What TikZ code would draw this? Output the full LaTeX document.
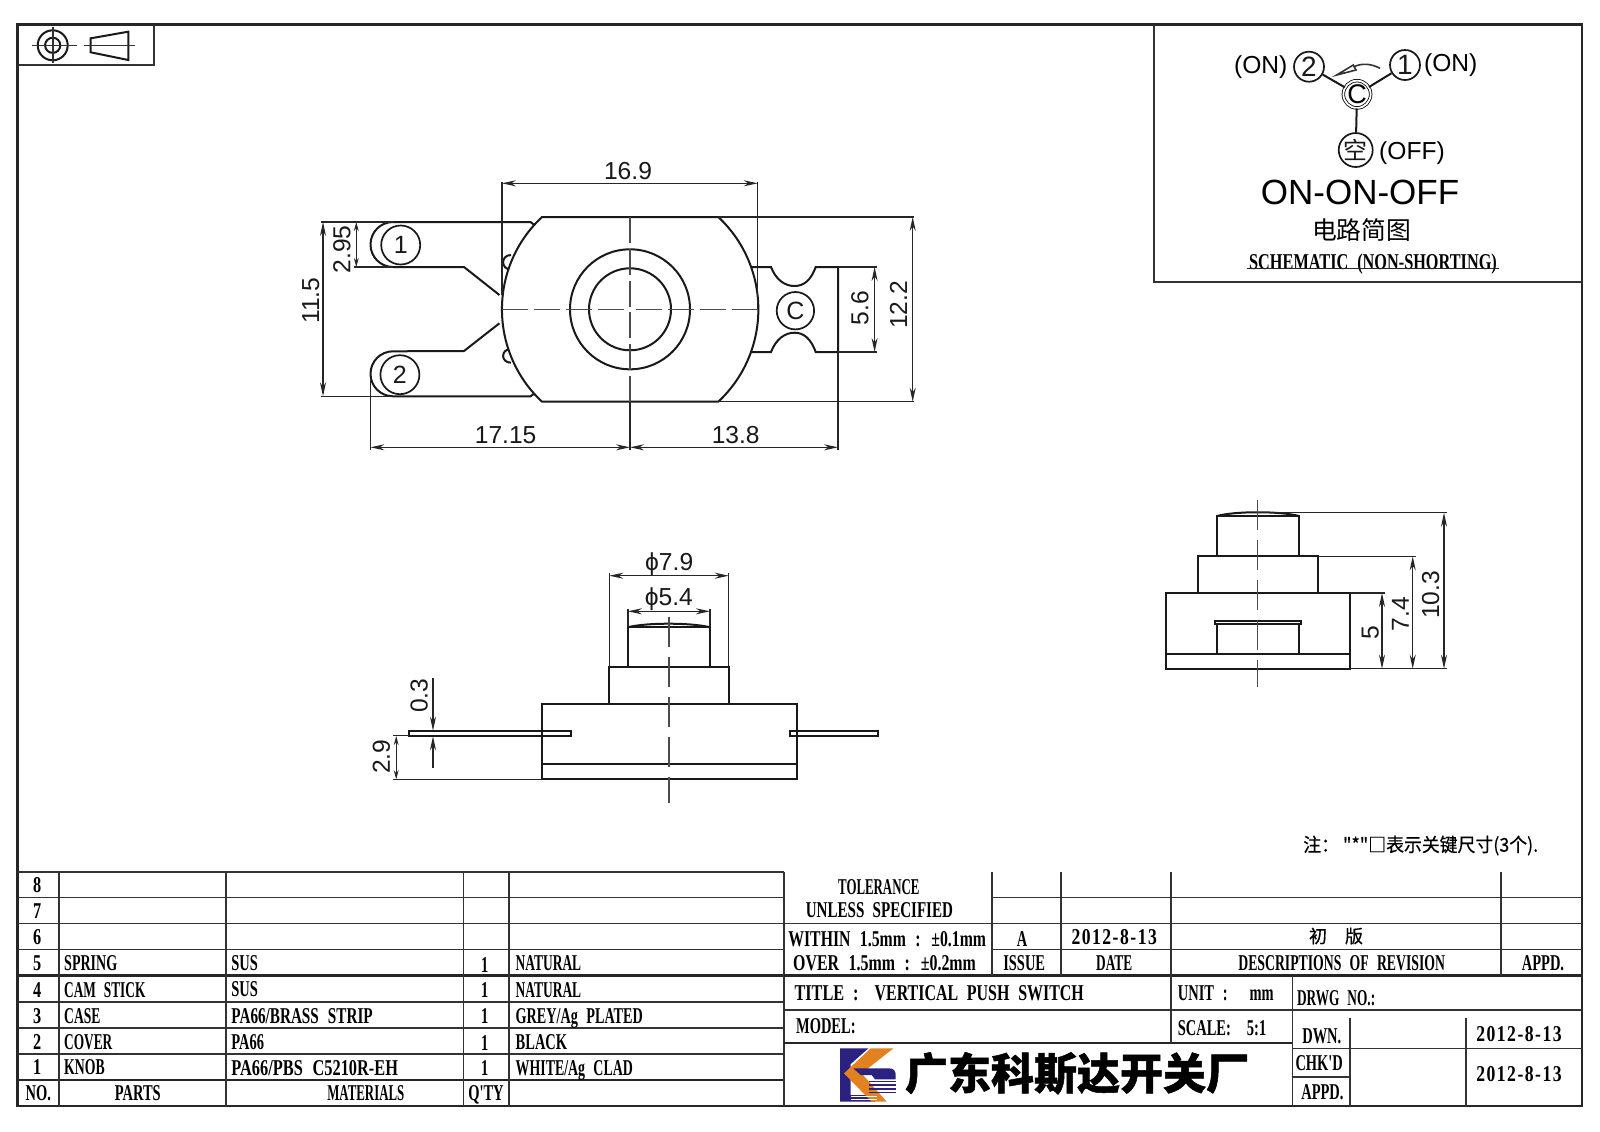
\documentclass[tikz,border=0pt]{standalone}
\usepackage{fontspec}
\usepackage{graphicx}
\setmainfont{Liberation Sans}
\newfontfamily\cjk[BoldFeatures={FakeBold=1.2}]{Noto Sans CJK SC}
\newfontfamily\cjkm[FakeBold=0.5]{Noto Sans CJK SC}
\newfontfamily\cadf[FakeStretch=0.64,WordSpace=2.4]{Liberation Serif}
\newfontfamily\cadg[FakeStretch=0.72,WordSpace=2.2]{Liberation Serif}
\newfontfamily\cadh[FakeStretch=0.78,LetterSpace=6.6]{Liberation Serif}
\newcommand{\cad}{\cadf\bfseries\fontsize{11.3}{12}\selectfont}
\newcommand{\cadw}{\cadg\bfseries\fontsize{11.3}{12}\selectfont}
\newcommand{\cadd}{\cadh\bfseries\fontsize{11.3}{12}\selectfont}
\newcommand{\dimf}{\fontsize{12.3}{13}\selectfont}
\newcommand{\hs}[2]{\scalebox{#1}[1]{#2}}
\usetikzlibrary{arrows.meta}
\definecolor{logoblue}{HTML}{2B2180}
\definecolor{logoorange}{HTML}{E2811F}
\tikzset{
 frame/.style={line width=1.2pt,black!85},
 grid/.style={line width=0.8pt,black!80},
 thick grid/.style={line width=1.15pt,black!85},
 part/.style={line width=1pt,black!90},
 thinl/.style={line width=0.6pt,black!85},
 axis/.style={line width=0.6pt,black!70,dash pattern=on 13pt off 3pt},
 dimline/.style={thinl,{Stealth[length=7pt,width=3pt]}-{Stealth[length=7pt,width=3pt]}},
 smalldim/.style={thinl,{Stealth[length=4.5pt,width=2.4pt]}-{Stealth[length=4.5pt,width=2.4pt]}},
 tipend/.style={thinl,-{Stealth[length=7pt,width=3pt]}},
 dimt/.style={inner sep=0pt,font=\dimf,black!90},
 dimv/.style={dimt,rotate=90},
 ring/.style={draw,circle,line width=0.85pt,inner sep=0pt,black!90},
 tl/.style={inner sep=0pt,anchor=west,font=\cad,black,text height=7.5pt,text depth=0pt},
 tc/.style={inner sep=0pt,font=\cad,black,text height=7.5pt,text depth=0pt},
}
\begin{document}
\begin{tikzpicture}[x=0.5pt,y=-0.5pt]
\useasboundingbox (0,0) rectangle (1600,1131);
\fill[white] (0,0) rectangle (1600,1131);

% outer frame and corner boxes
\draw[frame] (17.5,24.5) rectangle (1582,1106);
\draw[grid] (17.5,65) -- (154,65) -- (154,24.5);
\draw[grid] (1154,24.5) -- (1154,281.7) -- (1582,281.7);

% projection symbol
\draw[part] (52.7,45.3) circle[radius=7.5pt];
\draw[part] (52.7,45.3) circle[radius=3.8pt];
\draw[grid] (31.7,45.3) -- (76.7,45.3) (52.7,27) -- (52.7,63);
\draw[part] (90.7,38.3) -- (128.3,31.7) -- (128.3,60) -- (90.7,52.3) -- cycle;
\draw[grid] (84,45.3) -- (134.7,45.3);

% schematic
\node[ring,minimum size=15pt,font=\fontsize{14}{15}\selectfont] (s2) at (1309,66.7) {2};
\node[ring,minimum size=15pt,font=\fontsize{14}{15}\selectfont] (s1) at (1405,65) {1};
\node[draw,circle,line width=0.4pt,double,double distance=0.9pt,minimum size=13.4pt,inner sep=0pt,font=\fontsize{13.5}{14}\selectfont] (sc) at (1357,94.3) {C};
\node[ring,minimum size=17pt,font=\cjk\fontsize{12}{13}\selectfont] (so) at (1355.7,150) {空};
\draw[part] (s2) -- (sc);
\draw[part] (s1) -- (sc);
\draw[part] (sc) -- (so);
\node[inner sep=0pt,font=\fontsize{12.3}{14}\selectfont] (on2) at (1260.7,67) {(ON)};
\node[inner sep=0pt,font=\fontsize{12.3}{14}\selectfont] (on1) at (1450.7,65.3) {(ON)};
\node[inner sep=0pt,font=\fontsize{12.3}{14}\selectfont] (off) at (1412,153.5) {(OFF)};
\draw[grid] (1380,68.3) .. controls (1372,64) and (1362,62.5) .. (1353.5,67);
\draw[grid] (1336.7,75) -- (1353.3,65) -- (1356,70) -- cycle;
\node[inner sep=0pt,font=\fontsize{17.5}{19}\selectfont] (onon) at (1360,192.7) {ON-ON-OFF};
\node[inner sep=0pt,font=\cjk\fontsize{12.4}{14}\selectfont] (cn) at (1361.7,230) {电路简图};
\node[tc,font=\cadw] (sch) at (1373,261.7) {SCHEMATIC (NON-SHORTING)};
\draw[thinl] (1246.7,268.8) -- (1499.3,268.8);

% top view: terminals
\draw[part] (535,225.5) -- (530.5,222) -- (393,222) arc[start angle=90,end angle=270,radius=11.25pt] -- (464,267) -- (499.4,295);
\draw[part] (535,393) -- (530.5,396.3) -- (393,396.3) arc[start angle=270,end angle=90,radius=11.25pt] -- (464,351) -- (499.4,323.3);
\draw[part] (511,255) .. controls (500.5,255) and (500.5,269.5) .. (511,269.5);
\draw[part] (511,349) .. controls (500.5,349) and (500.5,362.7) .. (511,362.7);
\draw[part] (751.4,267) -- (771,267) .. controls (776,280) and (785,286) .. (794.5,286) .. controls (804,286) and (811,280) .. (815.7,267) -- (838,267) -- (838,352) -- (815.7,352) .. controls (811,339) and (804,332.7) .. (794.5,332.7) .. controls (785,332.7) and (776,339) .. (771,352) -- (751.4,352);
% top view: body
\draw[part,fill=white] (542,217) -- (718.3,217) .. controls (771.7,267) and (771.7,351.7) .. (718.3,401.7) -- (542,401.7) .. controls (488.6,351.7) and (488.6,267) .. (542,217) -- cycle;
\draw[part] (630,309.3) circle[radius=30pt];
\draw[part] (630,309.3) circle[radius=20.5pt];
\draw[axis] (630,217) -- (630,309.3);
\draw[axis] (630,401.7) -- (630,309.3);
\draw[axis] (502,309.3) -- (630,309.3);
\draw[axis] (758,309.3) -- (630,309.3);
\node[ring,minimum size=19.5pt,font=\fontsize{12.5}{13}\selectfont] (t1) at (400.7,245) {1};
\node[ring,minimum size=19.5pt,font=\fontsize{12.5}{13}\selectfont] (t2) at (399.9,374.7) {2};
\node[ring,minimum size=18.7pt,font=\fontsize{12.5}{13}\selectfont] (tc) at (795.4,310.7) {C};
% top view: dimensions
\draw[thinl] (501.9,181.7) -- (501.9,295);
\draw[thinl] (757.7,181.7) -- (757.7,309);
\draw[dimline] (501.9,183.3) -- (757.7,183.3);
\node[dimt] (d169) at (628,170.7) {16.9};
\draw[thinl] (370.4,380) -- (370.4,450);
\draw[thinl] (630,401.7) -- (630,450);
\draw[thinl] (838,352) -- (838,450);
\draw[dimline] (370.4,447.3) -- (630,447.3);
\draw[dimline] (630,447.3) -- (838,447.3);
\node[dimt] (d1715) at (505.6,435) {17.15};
\node[dimt] (d138) at (735.7,435) {13.8};
\draw[thinl] (321,222) -- (393,222);
\draw[thinl] (321,396.3) -- (393,396.3);
\draw[dimline] (323,222) -- (323,396.3);
\node[dimv] (d115) at (310.7,300.7) {11.5};
\draw[thinl] (354,267) -- (393,267);
\draw[smalldim] (356.3,222) -- (356.3,267);
\node[dimv] (d295) at (341.8,249.3) {2.95};
\draw[thinl] (838,267) -- (876.7,267);
\draw[thinl] (838,352) -- (876.7,352);
\draw[dimline] (874.6,267) -- (874.6,352);
\node[dimv] (d56) at (860,308.3) {5.6};
\draw[thinl] (718.3,217) -- (914,217);
\draw[thinl] (718.3,401.7) -- (914,401.7);
\draw[dimline] (912.7,217) -- (912.7,401.7);
\node[dimv] (d122) at (898.5,305) {12.2};

% front view
\draw[part] (541.5,703.7) rectangle (796.6,779.3);
\draw[part] (541.5,764.3) -- (796.6,764.3);
\draw[part] (609.3,667.3) rectangle (728.8,703.7);
\draw[part] (627.9,627.3) rectangle (709.9,667.3);
\draw[part] (627.9,627.3) .. controls (645,622.5) and (692,622.5) .. (709.9,627.3);
\draw[part] (409.2,730.7) rectangle (571.4,736.3);
\draw[part] (789.8,730.7) rectangle (877.9,736.3);
\draw[axis,dash pattern=on 15pt off 5pt] (668.9,617.3) -- (668.9,802.7);
\draw[thinl] (609.3,573.3) -- (609.3,667.3);
\draw[thinl] (728.8,573.3) -- (728.8,667.3);
\draw[dimline] (609.3,575.7) -- (728.8,575.7);
\node[dimt] (p79) at (669.2,563.7) {ϕ7.9};
\draw[thinl] (627.9,609) -- (627.9,627.3);
\draw[thinl] (709.9,609) -- (709.9,627.3);
\draw[dimline] (627.9,611.3) -- (709.9,611.3);
\node[dimt] (p54) at (668.9,598.7) {ϕ5.4};
\draw[tipend] (433,677.7) -- (433,730.7);
\draw[tipend] (433,767.7) -- (433,736.3);
\node[dimv] (d03) at (419.2,695.7) {0.3};
\draw[thinl] (393.4,735.7) -- (409.2,735.7);
\draw[thinl] (393.4,779.3) -- (541.5,779.3);
\draw[smalldim] (396.2,736) -- (396.2,779.3);
\node[dimv] (d29) at (381.4,756.7) {2.9};

% side view
\draw[part] (1165.7,593) rectangle (1350.3,668.7);
\draw[part] (1165.7,653.7) -- (1350.3,653.7);
\draw[part] (1198,556.3) rectangle (1317.7,593);
\draw[part] (1217,516) rectangle (1299,556.3);
\draw[part] (1217,516) .. controls (1235,511) and (1280,511) .. (1299,516);
\draw[part] (1217,653.7) -- (1217,624.3) -- (1299,624.3) -- (1299,653.7);
\draw[part] (1215.3,624.3) -- (1215.3,620.7) -- (1300.7,620.7) -- (1300.7,624.3) -- cycle;
\draw[axis,dash pattern=on 15pt off 5pt] (1257.7,500) -- (1257.7,686.7);
\draw[thinl] (1258,512.7) -- (1446.7,512.7);
\draw[thinl] (1350.3,668.7) -- (1446.7,668.7);
\draw[dimline] (1444,512.7) -- (1444,668.7);
\node[dimv] (d103) at (1430.7,595) {10.3};
\draw[thinl] (1317.7,556.3) -- (1415.7,556.3);
\draw[dimline] (1412.7,556.3) -- (1412.7,668.7);
\node[dimv] (d74) at (1400.3,614) {7.4};
\draw[thinl] (1350.3,593) -- (1385,593);
\draw[dimline] (1382,593) -- (1382,668.7);
\node[dimv] (d5) at (1370.3,632.3) {5};

% note
\node[inner sep=0pt,font=\cjkm\fontsize{9.5}{11}\selectfont] (note) at (1420.7,845.5) {\hs{0.94}{注： "*"□表示关键尺寸(3个).}};

% parts table
\foreach \yy in {871.7,897.3,923.3,949.3,1001.7,1027.7,1053.7} \draw[grid] (17.5,\yy) -- (784.2,\yy);
\foreach \yy in {975.5,1080} \draw[thick grid] (17.5,\yy) -- (784.2,\yy);
\foreach \xx in {58.7,226,463.3,509.2,784.2} \draw[grid] (\xx,871.7) -- (\xx,1106);
\foreach \yy/\tx in {885/8,911/7,937.3/6,963.3/5,990/4,1015.7/3,1042.3/2,1067.3/1} \node[tc,font=\cadw] (n\tx) at (37.2,\yy) {\tx};
\node[tc] (h0) at (38.3,1093.3) {NO.};
\node[tc] (h1) at (137.8,1093.3) {PARTS};
\node[tc] (h2) at (365.8,1093.3) {\hs{0.89}{MATERIALS}};
\node[tc] (h3) at (486,1093.3) {Q'TY};
\node[tl] (p5) at (63.8,963.3) {\hs{0.97}{SPRING}};
\node[tl] (p4) at (63.8,990) {\hs{0.92}{CAM STICK}};
\node[tl] (p3) at (63.8,1015.7) {\hs{0.94}{CASE}};
\node[tl] (p2) at (63.8,1042.3) {\hs{0.92}{COVER}};
\node[tl] (p1) at (63.8,1067.3) {\hs{0.95}{KNOB}};
\node[tl] (m5) at (231,963) {SUS};
\node[tl] (m4) at (231,989) {SUS};
\node[tl] (m3) at (231,1015.7) {\hs{1.05}{PA66/BRASS STRIP}};
\node[tl] (m2) at (231,1042.3) {PA66};
\node[tl] (m1) at (231,1068) {\hs{1.13}{PA66/PBS C5210R-EH}};
\foreach \yy/\tx in {964.5/a,990/b,1016/c,1042.5/d,1068/e} \node[tc] (q\tx) at (484.7,\yy) {1};
\node[tl] (f5) at (515.3,963.3) {\hs{0.93}{NATURAL}};
\node[tl] (f4) at (515.3,990) {\hs{0.93}{NATURAL}};
\node[tl] (f3) at (515.3,1015.7) {\hs{0.98}{GREY/Ag PLATED}};
\node[tl] (f2) at (515.3,1042.3) {BLACK};
\node[tl] (f1) at (515.3,1068) {\hs{0.96}{WHITE/Ag CLAD}};

% revision block
\draw[grid] (991.8,897.3) -- (1582,897.3);
\draw[grid] (784.2,923.3) -- (1582,923.3);
\draw[grid] (991.8,949.3) -- (1582,949.3);
\draw[thick grid] (784.2,975.5) -- (1582,975.5);
\foreach \xx in {991.8,1060.9,1170.7,1500.7} \draw[grid] (\xx,871.7) -- (\xx,975.5);
\node[tc] (r1) at (878.8,886.7) {\hs{0.89}{TOLERANCE}};
\node[tc] (r2) at (879.4,910) {\hs{1.04}{UNLESS\hspace{4pt}SPECIFIED}};
\node[tc] (r3) at (887.2,939) {\hs{1.09}{WITHIN 1.5mm : ±0.1mm}};
\node[tc] (r4) at (884.6,963.3) {\hs{1.1}{OVER 1.5mm : ±0.2mm}};
\node[tc] (r5) at (1022.2,939) {A};
\node[tc,font=\cadd] (r6) at (1114.2,936.7) {2012-8-13};
\node[inner sep=0pt,font=\cjkm\fontsize{9}{10}\selectfont] (r7) at (1336,936) {初\hspace{9pt}版};
\node[tc] (r8) at (1024.2,963.3) {ISSUE};
\node[tc] (r9) at (1114.2,963.3) {\hs{0.92}{DATE}};
\node[tc] (r10) at (1341.7,962.7) {\hs{0.95}{DESCRIPTIONS OF REVISION}};
\node[tc] (r11) at (1543,963.3) {APPD.};

% title block
\draw[grid] (784.2,1009.7) -- (1582,1009.7);
\draw[thick grid] (784.2,1042.7) -- (1292.6,1042.7);
\draw[grid] (1170.7,975.5) -- (1170.7,1042.7);
\draw[grid] (1292.6,975.5) -- (1292.6,1106);
\draw[grid] (1350.1,1018.3) -- (1350.1,1106);
\draw[grid] (1466.2,1018.3) -- (1466.2,1106);
\draw[grid] (1292.6,1048.3) -- (1582,1048.3);
\draw[grid] (1292.6,1077) -- (1350.1,1077);
\node[tl,font=\cadw] (b1) at (794.1,992.7) {TITLE :\hspace{8pt}\hs{0.98}{VERTICAL PUSH SWITCH}};
\node[tl] (b2) at (1177.5,993.3) {UNIT :\hspace{11pt}mm};
\node[tl] (b3) at (1296.7,997.7) {\hs{0.92}{DRWG NO.:}};
\node[tl] (b4) at (795.7,1026) {MODEL:};
\node[tl] (b5) at (1177.5,1027.7) {SCALE:\hspace{8pt}5:1};
\node[tc] (b6) at (1321.8,1035.7) {DWN.};
\node[tc] (b7) at (1319.2,1063.3) {CHK'D};
\node[tc] (b8) at (1322.4,1092.3) {APPD.};
\node[tc,font=\cadd] (b9) at (1519,1034) {2012-8-13};
\node[tc,font=\cadd] (b10) at (1519,1074) {2012-8-13};

% logo
\begin{scope}[shift={(830,1040)},x=0.1667pt,y=-0.1667pt]
 \fill[logoblue] (30,25) -- (115,25) -- (62,72) -- (62,165) -- (135,165) -- (135,185) -- (30,185) -- cycle;
 \fill[logoorange] (122,25) -- (190,25) -- (95,100) -- (170,185) -- (125,185) -- (42,100) -- cycle;
 \fill[logoblue] (70,85) -- (178,85) .. controls (190,85) and (197,92) .. (197,105) -- (197,118) -- (135,118) -- (125,105) -- (92,105) -- cycle;
 \foreach \yy in {122,133,145,155} \fill[logoblue] (118,\yy) rectangle (197,\yy+5);
 \foreach \yy in {168,177} \fill[white] (62,\yy) rectangle (140,\yy+2);
\end{scope}
\node[inner sep=0pt,font=\cjk\bfseries\fontsize{21.5}{23}\selectfont] (logotext) at (1077,1073.3) {广东科斯达开关厂};
\end{tikzpicture}
\end{document}
